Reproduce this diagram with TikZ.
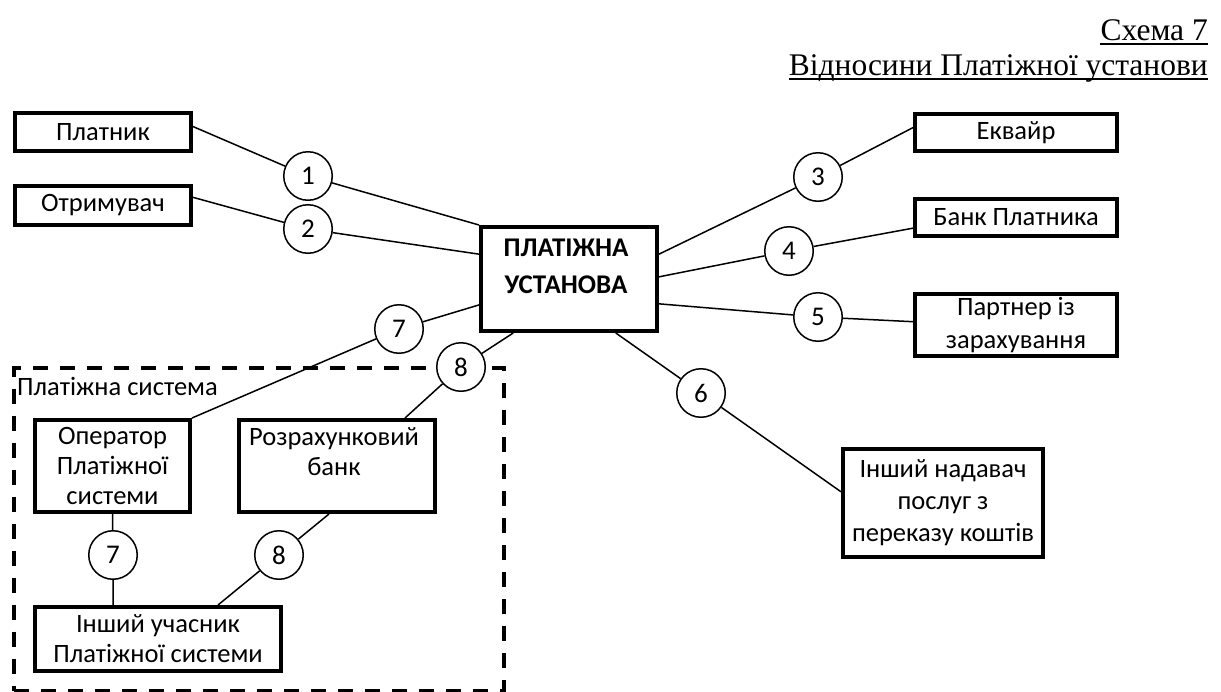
\documentclass[tikz,border=0pt]{standalone}
\usepackage{fontspec}
\setmainfont{Carlito}
\newfontfamily\timesf{Liberation Serif}
\usetikzlibrary{calc}
\tikzset{
  box/.style={draw, line width=4pt, inner sep=0pt, align=center, font=\fontsize{26.5}{30}\selectfont},
  num/.style={draw, fill=white, circle, line width=1.5pt, minimum size=48.5pt, inner sep=0pt, font=\fontsize{27}{30}\selectfont},
  conn/.style={line width=1.5pt},
  txt/.style={align=center, inner sep=0pt, font=\fontsize{26.5}{30}\selectfont},
  ttl/.style={anchor=base east, inner sep=0pt, font=\timesf\fontsize{31.5}{34}\selectfont},
  uline/.style={line width=1.4pt},
  sysbox/.style={draw, line width=3.5pt, dash pattern=on 15pt off 12pt, inner sep=0pt}
}
\begin{document}
\begin{tikzpicture}[x=1pt,y=-1pt]
\useasboundingbox (0,0) rectangle (1221,691);
% title
\node[ttl] (t1) at (1208,40) {Схема 7};
\node[ttl] (t2) at (1208,75) {Відносини Платіжної установи};
\draw[uline] ($(t1.base west)+(0,4)$) -- ($(t1.base east)+(0,4)$);
\draw[uline] ($(t2.base west)+(0,4)$) -- ($(t2.base east)+(0,4)$);
% payment system container
\node[sysbox, minimum width=490pt, minimum height=322.5pt] (ps) at (259,529.25) {};
\node[anchor=base west, inner sep=0pt, font=\fontsize{26.5}{30}\selectfont] (pslab) at (17,395) {Платіжна система};
% boxes
\node[box, minimum width=176pt, minimum height=38pt] (plat) at (103,132) {Платник};
\node[box, minimum width=176pt, minimum height=39pt] (otr) at (103,205.5) {Отримувач};
\node[box, minimum width=176pt, minimum height=104pt] (cent) at (569,279) {};
\node[txt, font=\fontsize{27}{37}\selectfont\bfseries] (centt) at (566,266) {ПЛАТІЖНА\\УСТАНОВА};
\node[box, minimum width=202pt, minimum height=37pt] (ekv) at (1016,132.5) {Еквайр};
\node[box, minimum width=202pt, minimum height=37pt] (bank) at (1016,217.5) {Банк Платника};
\node[box, minimum width=202pt, minimum height=62pt, font=\fontsize{26.5}{33}\selectfont] (part) at (1016,325) {Партнер із\\зарахування};
\node[box, minimum width=200pt, minimum height=108pt, font=\fontsize{26.5}{32}\selectfont] (nad) at (943,503) {Інший надавач\\послуг з\\переказу коштів};
\node[box, minimum width=155pt, minimum height=92pt] (oper) at (112.5,466) {Оператор\\Платіжної\\системи};
\node[box, minimum width=196pt, minimum height=92pt] (rozr) at (337,466) {};
\node[txt] (rozrt) at (334,452) {Розрахунковий\\банк};
\node[box, minimum width=246pt, minimum height=64pt] (uch) at (158,639) {Інший учасник\\Платіжної системи};
% numbered circles
\node[num] (c1) at (308,176) {1};
\node[num] (c2) at (308,229) {2};
\node[num] (c3) at (818,177) {3};
\node[num] (c4) at (789,251) {4};
\node[num] (c5) at (818,317) {5};
\node[num] (c6) at (701,393) {6};
\node[num] (c7a) at (399,329) {7};
\node[num] (c8a) at (461,367) {8};
\node[num] (c7b) at (113,555) {7};
\node[num] (c8b) at (279,555) {8};
% connectors
\draw[conn] ($(plat.north east)!0.37!(plat.south east)$) -- (c1) -- (cent.north west);
\draw[conn] ($(otr.north east)!0.31!(otr.south east)$) -- (c2) -- ($(cent.north west)!0.27!(cent.south west)$);
\draw[conn] ($(cent.north west)!0.74!(cent.south west)$) -- (c7a) -- (oper.north east);
\draw[conn] ($(cent.south west)!0.19!(cent.south east)$) -- (c8a) -- ($(rozr.north west)!0.84!(rozr.north east)$);
\draw[conn] ($(cent.north east)!0.27!(cent.south east)$) -- (c3) -- ($(ekv.north west)!0.38!(ekv.south west)$);
\draw[conn] ($(cent.north east)!0.48!(cent.south east)$) -- (c4) -- ($(bank.north west)!0.76!(bank.south west)$);
\draw[conn] ($(cent.north east)!0.73!(cent.south east)$) -- (c5) -- ($(part.north west)!0.45!(part.south west)$);
\draw[conn] ($(cent.south west)!0.76!(cent.south east)$) -- (c6) -- ($(nad.north west)!0.4!(nad.south west)$);
\draw[conn] (oper.south) -- (c7b) -- ($(uch.north west)!0.32!(uch.north east)$);
\draw[conn] ($(rozr.south west)!0.46!(rozr.south east)$) -- (c8b) -- ($(uch.north west)!0.74!(uch.north east)$);
\end{tikzpicture}
\end{document}
